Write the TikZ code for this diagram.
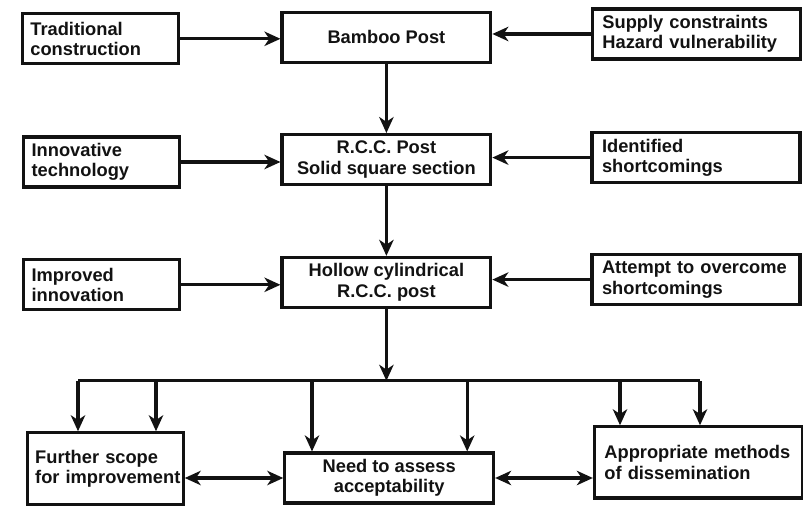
\documentclass[tikz,border=0pt]{standalone}
\usepackage{fontspec}
\setmainfont{Liberation Sans}
\usetikzlibrary{arrows.meta,calc}
\hyphenpenalty=10000
\exhyphenpenalty=10000
\definecolor{Ink}{RGB}{18,18,18}
\tikzset{
  >=Stealth,
  box/.style={draw=Ink,line width=2.2pt,fill=white,text=Ink,font=\bfseries\fontsize{13}{14.5}\selectfont,minimum height=1.25cm,inner ysep=3pt},
  post/.style={box,align=center,minimum width=5.22cm},
  lbox/.style={box,align=left,text width=3.5cm,inner xsep=0.2cm},
  rbox/.style={box,align=left,text width=4.7cm,inner xsep=0.25cm},
  flow/.style={-{Stealth[length=4mm,width=3.6mm,inset=1.2mm]},line width=2.2pt,draw=Ink},
  both/.style={{Stealth[length=4mm,width=3.6mm,inset=1.2mm]}-{Stealth[length=4mm,width=3.6mm,inset=1.2mm]},line width=2.2pt,draw=Ink},
  bus/.style={line width=2.2pt,draw=Ink}
}
\begin{document}
\begin{tikzpicture}[x=1cm,y=1cm]
  \useasboundingbox (0,0) rectangle (20.075,12.65);
  \node[lbox] (trad) at (2.51,11.68) {Traditional\\construction};
  \node[post] (bamboo) at (9.66,11.72) {Bamboo Post};
  \node[rbox] (supply) at (17.41,11.80) {Supply constraints\\Hazard vulnerability};
  \node[lbox] (innov) at (2.54,8.60) {Innovative\\technology};
  \node[post] (rcc) at (9.66,8.66) {R.C.C. Post\\Solid square section};
  \node[rbox] (ident) at (17.40,8.71) {Identified\\shortcomings};
  \node[lbox] (improved) at (2.54,5.53) {Improved\\innovation};
  \node[post] (hollow) at (9.66,5.59) {Hollow cylindrical\\R.C.C. post};
  \node[rbox] (attempt) at (17.40,5.66) {Attempt to overcome\\shortcomings};
  \node[lbox,minimum height=1.8cm] (further) at (2.63,0.93) {Further scope\\for~improvement};
  \node[post] (need) at (9.73,0.70) {Need to assess\\acceptability};
  \node[rbox,minimum height=1.78cm] (approp) at (17.46,1.09) {Appropriate methods\\of dissemination};
  \coordinate (split) at (9.66,3.13);
  \coordinate (d1) at (1.95,3.13);
  \coordinate (d2) at (3.90,3.13);
  \coordinate (d3) at (7.80,3.13);
  \coordinate (d4) at (11.68,3.13);
  \coordinate (d5) at (15.50,3.13);
  \coordinate (d6) at (17.50,3.13);
    \draw[flow] (trad.east) -- (trad.east -| bamboo.west);
    \draw[flow] (supply.west) -- (supply.west -| bamboo.east);
    \draw[flow] (bamboo) -- (rcc);
    \draw[flow] (innov.east) -- (innov.east -| rcc.west);
    \draw[flow] (ident.west) -- (ident.west -| rcc.east);
    \draw[flow] (rcc) -- (hollow);
    \draw[flow] (improved.east) -- (improved.east -| hollow.west);
    \draw[flow] (attempt.west) -- (attempt.west -| hollow.east);
    \draw[flow] (hollow) -- (split);
    \draw[bus] (d1) -- (d6);
    \foreach \d/\t in {d1/further,d2/further,d3/need,d4/need,d5/approp,d6/approp}
      \draw[flow] (\d) -- (\d |- \t.north);
    \draw[both] (further.east |- need.west) -- (need.west);
    \draw[both] (need.east) -- (need.east -| approp.west);
\end{tikzpicture}
\end{document}
